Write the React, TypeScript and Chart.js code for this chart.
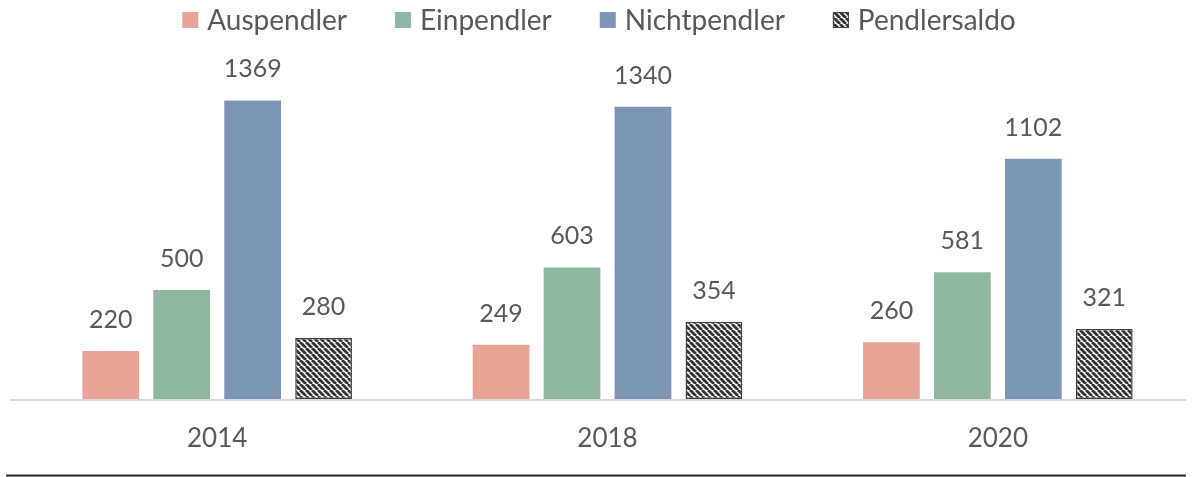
import React, { useEffect, useRef } from "react";
import { Chart, registerables } from "chart.js";

Chart.register(...registerables);

const categories = ["2014", "2018", "2020"];
const seriesNames = ["Auspendler", "Einpendler", "Nichtpendler", "Pendlersaldo"];
const auspendler = [220, 249, 260];
const einpendler = [500, 603, 581];
const nichtpendler = [1369, 1340, 1102];
const pendlersaldo = [280, 354, 321];
const seriesColors = ["#E8A494", "#8FB8A0", "#7E96B5"];

const FONT = "Lato, 'Open Sans', sans-serif";
const TEXT = "#595959";

function makeHatch(size: number, lw: number): CanvasPattern | string {
  const c = document.createElement("canvas");
  c.width = size;
  c.height = size;
  const ctx = c.getContext("2d");
  if (!ctx) return "#404040";
  ctx.fillStyle = "#ffffff";
  ctx.fillRect(0, 0, size, size);
  ctx.strokeStyle = "#333333";
  ctx.lineWidth = lw;
  for (let k = -1; k <= 1; k++) {
    ctx.beginPath();
    ctx.moveTo(k * size, 0);
    ctx.lineTo(k * size + size, size);
    ctx.stroke();
  }
  const p = ctx.createPattern(c, "repeat");
  return p || "#404040";
}

export default function App() {
  const ref = useRef<HTMLCanvasElement | null>(null);

  useEffect(() => {
    document.body.style.margin = "0";
    if (!ref.current) return;
    const hatch = makeHatch(6, 2.8);
    const legendHatch = makeHatch(6, 2.8);

    const decor = {
      id: "decor",
      afterDatasetsDraw(chart: any) {
        const ctx = chart.ctx;
        const area = chart.chartArea;
        ctx.save();
        // value labels
        ctx.font = `25px ${FONT}`;
        ctx.fillStyle = TEXT;
        ctx.textAlign = "center";
        ctx.textBaseline = "alphabetic";
        chart.data.datasets.forEach((ds: any, i: number) => {
          const meta = chart.getDatasetMeta(i);
          meta.data.forEach((el: any, j: number) => {
            ctx.fillText(String(ds.data[j]), el.x, el.y - 23);
          });
        });
        // axis line
        ctx.strokeStyle = "#D9D9D9";
        ctx.lineWidth = 2;
        ctx.beginPath();
        ctx.moveTo(10, area.bottom + 1);
        ctx.lineTo(1186, area.bottom + 1);
        ctx.stroke();
        // bottom rule
        ctx.strokeStyle = "#262626";
        ctx.lineWidth = 2;
        ctx.beginPath();
        ctx.moveTo(6, chart.height - 1.5);
        ctx.lineTo(1186, chart.height - 1.5);
        ctx.stroke();
        // legend
        ctx.font = `28px ${FONT}`;
        ctx.textAlign = "left";
        ctx.textBaseline = "middle";
        const box = 16;
        const gap = 9;
        const spacing = 48;
        const widths = seriesNames.map((n) => box + gap + ctx.measureText(n).width);
        const total = widths.reduce((a, b) => a + b, 0) + spacing * (seriesNames.length - 1);
        let x = 599 - total / 2;
        const cy = 20;
        seriesNames.forEach((n, i) => {
          if (i < 3) {
            ctx.fillStyle = seriesColors[i];
            ctx.fillRect(x, cy - box / 2, box, box);
          } else {
            ctx.fillStyle = legendHatch;
            ctx.fillRect(x, cy - box / 2, box, box);
            ctx.strokeStyle = "#404040";
            ctx.lineWidth = 1;
            ctx.strokeRect(x + 0.5, cy - box / 2 + 0.5, box - 1, box - 1);
          }
          ctx.fillStyle = TEXT;
          ctx.fillText(n, x + box + gap, cy + 1);
          x += widths[i] + spacing;
        });
        ctx.restore();
      },
    };

    const chart = new Chart(ref.current, {
      type: "bar",
      data: {
        labels: categories,
        datasets: [
          { label: seriesNames[0], data: auspendler, backgroundColor: seriesColors[0], borderWidth: 0 },
          { label: seriesNames[1], data: einpendler, backgroundColor: seriesColors[1], borderWidth: 0 },
          { label: seriesNames[2], data: nichtpendler, backgroundColor: seriesColors[2], borderWidth: 0 },
          {
            label: seriesNames[3],
            data: pendlersaldo,
            backgroundColor: hatch as any,
            borderColor: "#404040",
            borderWidth: 1.5,
            borderSkipped: false,
          },
        ],
      },
      options: {
        animation: false,
        responsive: true,
        maintainAspectRatio: false,
        layout: { padding: { left: 22, right: 2, top: 50, bottom: 0 } },
        datasets: { bar: { categoryPercentage: 0.727, barPercentage: 0.8 } },
        plugins: { legend: { display: false }, tooltip: { enabled: false } },
        scales: {
          x: {
            grid: { display: false, drawTicks: false },
            border: { display: false },
            ticks: { color: TEXT, font: { family: FONT, size: 26 }, padding: 24 },
            afterFit: (axis: any) => {
              axis.height = 78;
            },
          },
          y: { display: false, min: 0, max: 1600 },
        },
      },
      plugins: [decor],
    });
    return () => chart.destroy();
  }, []);

  return (
    <div style={{ position: "relative", width: 1195, height: 477, background: "#fff" }}>
      <canvas ref={ref} />
    </div>
  );
}
